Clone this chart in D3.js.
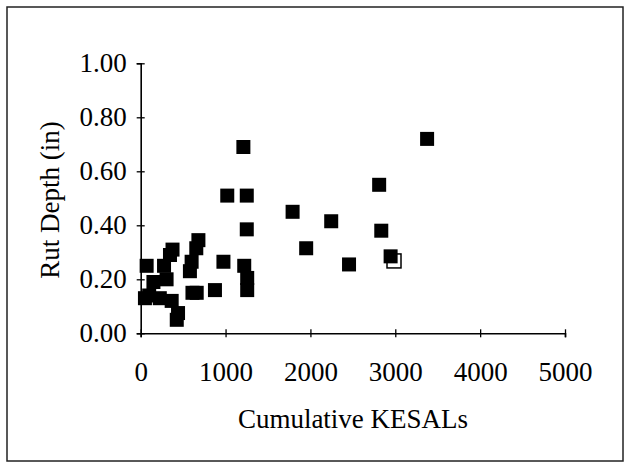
<!DOCTYPE html>
<html>
<head>
<meta charset="utf-8">
<script src="https://cdn.jsdelivr.net/npm/d3@7"></script>
<style>
  body { margin: 0; background: #fff; }
  svg { display: block; }
</style>
</head>
<body>
<svg width="626" height="463"></svg>
<script>
// values
const kesals = [50, 70, 100, 150, 225, 275, 305, 345, 375, 365, 440, 425, 580, 600, 610, 660,
  655, 680, 875, 975, 1020, 1210, 1250, 1250, 1220, 1255, 1255, 1790, 1950, 2245, 2455,
  2810, 2835, 2945, 3375];
const rutDepth = [0.13, 0.25, 0.14, 0.19, 0.13, 0.25, 0.20, 0.29, 0.31, 0.12, 0.075, 0.05,
  0.23, 0.265, 0.15, 0.15, 0.315, 0.345, 0.16, 0.265, 0.51, 0.69, 0.51, 0.385, 0.25, 0.205,
  0.16, 0.45, 0.315, 0.415, 0.255, 0.55, 0.38, 0.285, 0.72];
// the one point drawn as an open square behind its neighbour
const openKesals = [2985];
const openRut = [0.268];

const xTicks = [0, 1000, 2000, 3000, 4000, 5000];
const yTicks = [0, 0.2, 0.4, 0.6, 0.8, 1.0];

const svg = d3.select('svg');
const width = 626;
const height = 463;
const margin = { left: 140.7, right: 61, top: 63.3, bottom: 129.7 };
const font = '"Liberation Serif", "Times New Roman", serif';
const fontSize = '27px';
const markerSize = 14;

// frame round the whole chart
svg.append('rect')
  .attr('x', 7).attr('y', 7)
  .attr('width', 616).attr('height', 454)
  .attr('fill', 'none')
  .attr('stroke', '#222')
  .attr('stroke-width', 1.5);

const x = d3.scaleLinear()
  .domain([0, 5000])
  .range([margin.left, width - margin.right]);
const y = d3.scaleLinear()
  .domain([0, 1])
  .range([height - margin.bottom, margin.top]);

function styleAxis(g) {
  g.select('.domain').attr('stroke', '#000').attr('stroke-width', 1.6);
  g.selectAll('.tick line').attr('stroke', '#000').attr('stroke-width', 1.3);
  g.selectAll('.tick text')
    .attr('fill', '#000')
    .style('font-family', font)
    .style('font-size', fontSize);
}

const xAxis = svg.append('g')
  .attr('transform', `translate(0,${y(0)})`)
  .call(d3.axisBottom(x).tickValues(xTicks).tickFormat(d3.format('d'))
    .tickSizeOuter(0).tickSize(4).tickPadding(25));
styleAxis(xAxis);
// ticks cross the axis line
xAxis.selectAll('.tick line').attr('y1', -4).attr('y2', 4);

const yAxis = svg.append('g')
  .attr('transform', `translate(${x(0)},0)`)
  .call(d3.axisLeft(y).tickValues(yTicks).tickFormat(d3.format('.2f'))
    .tickSizeOuter(0).tickSize(4).tickPadding(10));
styleAxis(yAxis);
yAxis.selectAll('.tick line').attr('x1', -4).attr('x2', 4);

// points
const points = kesals.map((k, i) => ({ k, r: rutDepth[i] }));
const openPoints = openKesals.map((k, i) => ({ k, r: openRut[i] }));

svg.append('g')
  .selectAll('rect')
  .data(openPoints)
  .join('rect')
  .attr('x', d => x(d.k) - markerSize / 2)
  .attr('y', d => y(d.r) - markerSize / 2)
  .attr('width', markerSize)
  .attr('height', markerSize)
  .attr('fill', '#fff')
  .attr('stroke', '#000')
  .attr('stroke-width', 1.5);

svg.append('g')
  .selectAll('rect')
  .data(points)
  .join('rect')
  .attr('x', d => x(d.k) - markerSize / 2)
  .attr('y', d => y(d.r) - markerSize / 2)
  .attr('width', markerSize)
  .attr('height', markerSize)
  .attr('fill', '#000');

// axis titles
svg.append('text')
  .attr('x', 353)
  .attr('y', 428)
  .attr('text-anchor', 'middle')
  .style('font-family', font)
  .style('font-size', fontSize)
  .text('Cumulative KESALs');

svg.append('text')
  .attr('transform', 'translate(59,200) rotate(-90)')
  .attr('text-anchor', 'middle')
  .style('font-family', font)
  .style('font-size', fontSize)
  .text('Rut Depth (in)');
</script>
</body>
</html>
